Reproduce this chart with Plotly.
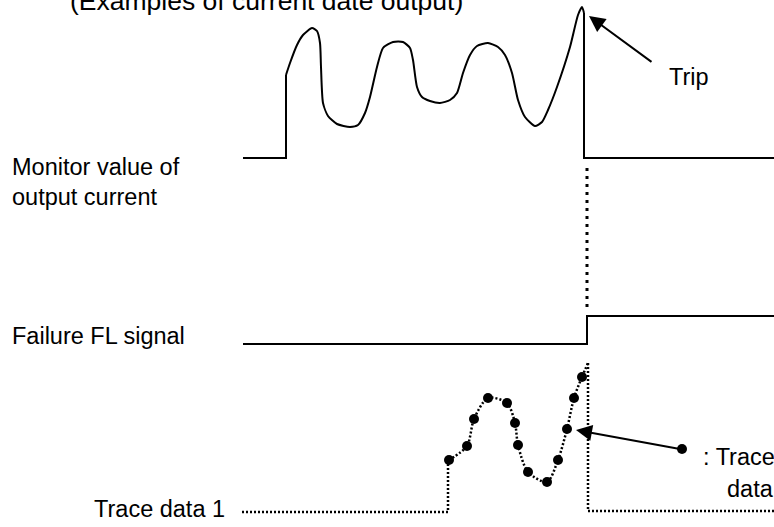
import plotly.graph_objects as go

# ---- data (drawing coordinates: x = time axis, y = level axis, top = 0) ----
monitor_base_t = [243, 286, 286]
monitor_base_v = [158, 158, 75]
monitor_t = [286, 290, 297, 303, 312, 317, 320, 321, 323, 328, 337, 350, 358, 365, 370, 377,
             383, 393, 403, 410, 413, 417, 422, 430, 440, 450, 457, 463, 470, 477, 488, 498,
             505, 512, 518, 525, 535, 542, 548, 557, 570, 578, 582, 584]
monitor_v = [75, 63, 45, 35, 28, 31, 43, 67, 103, 116, 124, 127, 125, 113, 97, 67,
             48, 42, 42, 48, 60, 87, 97, 101, 103, 100, 93, 73, 55, 46, 43, 47,
             55, 73, 100, 117, 126, 122, 110, 87, 47, 15, 7, 13]
monitor_trip_t = [584, 584, 774]
monitor_trip_v = [13, 158, 158]

trip_link_t = [587, 587]
trip_link_v = [168, 308]

fl_t = [243, 587, 587, 774]
fl_v = [344, 344, 316, 316]

trace_base_t = [242, 448, 448]
trace_base_v = [512, 512, 460]
trace_pts_t = [449, 467, 474, 488, 507, 515, 518, 528, 547, 558, 567, 574, 582]
trace_pts_v = [460, 446, 419, 398, 403, 423, 445, 472, 482, 460, 429, 398, 377]
trace_peak_t = [588]
trace_peak_v = [363]
trace_end_t = [588, 588, 774]
trace_end_v = [363, 511, 511]

legend_dot_t = [682]
legend_dot_v = [449]

# arrows: (tip_t, tip_v, tail_t, tail_v)
trip_arrow = (589, 16, 653, 63)
trace_arrow = (576, 430, 680, 449)

INK = "#000000"
FONT = "Liberation Sans, Arial, sans-serif"

fig = go.Figure()

def line(t, v, width=2, dash="solid", shape="linear", smoothing=None):
    ln = dict(color=INK, width=width, dash=dash, shape=shape)
    if smoothing is not None:
        ln["smoothing"] = smoothing
    fig.add_trace(go.Scatter(x=t, y=v, mode="lines", line=ln, hoverinfo="skip", showlegend=False))

line(monitor_base_t, monitor_base_v)
line(monitor_t, monitor_v, shape="spline", smoothing=0.6)
line(monitor_trip_t, monitor_trip_v)
line(trip_link_t, trip_link_v, width=3, dash="3px,5px")
line(fl_t, fl_v)

line(trace_base_t, trace_base_v, width=2.5, dash="2px,2px")
line(trace_pts_t + trace_peak_t, trace_pts_v + trace_peak_v, width=2.5, dash="2px,2px",
     shape="spline", smoothing=0.8)
line(trace_end_t, trace_end_v, width=2.5, dash="2px,2px")

fig.add_trace(go.Scatter(x=trace_pts_t + legend_dot_t, y=trace_pts_v + legend_dot_v, mode="markers",
                         marker=dict(color=INK, size=10), hoverinfo="skip", showlegend=False))

annotations = []
for tip_t, tip_v, tail_t, tail_v in (trip_arrow, trace_arrow):
    annotations.append(dict(x=tip_t, y=tip_v, ax=tail_t, ay=tail_v, xref="x", yref="y",
                            axref="x", ayref="y", text="", showarrow=True, arrowhead=2,
                            arrowsize=1.6, arrowwidth=2, arrowcolor=INK, standoff=0, startstandoff=0))

def label(text, t, v, size=23.5, anchor="left"):
    annotations.append(dict(x=t, y=v, xref="x", yref="y", text=text, showarrow=False,
                            xanchor=anchor, yanchor="middle",
                            font=dict(family=FONT, size=size, color=INK)))

label("(Examples of current date output)", 68, 1, size=26.5)
label("Monitor value of", 10, 167)
label("output current", 10, 197)
label("Failure FL signal", 10, 336)
label("Trace data 1", 92, 509)
label("Trip", 667, 77)
label(": Trace", 701, 457)
label("data", 725, 489)

fig.update_layout(
    width=774, height=527,
    margin=dict(l=0, r=0, t=0, b=0),
    paper_bgcolor="white", plot_bgcolor="white",
    xaxis=dict(range=[0, 774], visible=False, fixedrange=True),
    yaxis=dict(range=[527, 0], visible=False, fixedrange=True),
    annotations=annotations,
    showlegend=False,
    hovermode=False,
)

fig.write_html("out.html", config={"displayModeBar": False},
               post_script="document.body.style.margin='0';document.body.style.overflow='hidden';")
